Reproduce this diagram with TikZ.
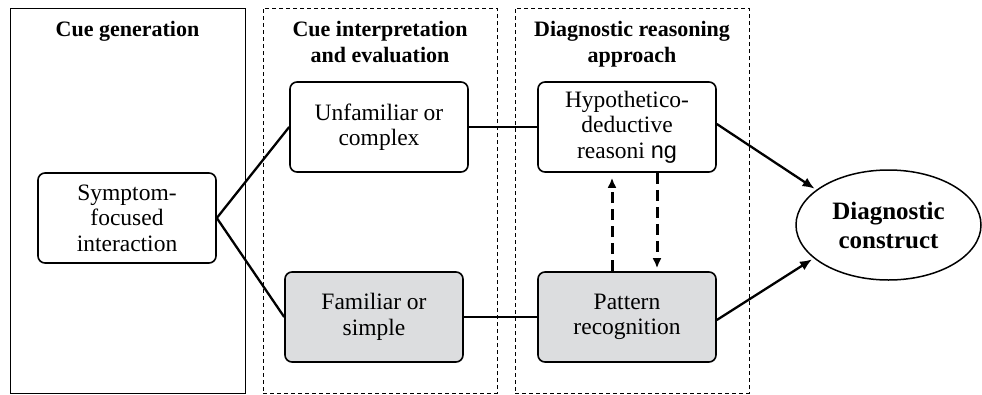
\documentclass[tikz,border=0pt]{standalone}
\usepackage{fontspec}
\setmainfont{Liberation Serif}
\setsansfont{Liberation Sans}
\usetikzlibrary{positioning, shapes.geometric, arrows.meta}
\definecolor{cuegray}{RGB}{220,221,223}
\tikzset{
	panel/.style={
		draw,
		line width=0.8pt,
		minimum width=234pt,
		minimum height=385pt,
		inner sep=0pt
	},
	dashedpanel/.style={
		panel,
		dash pattern=on 4pt off 3pt
	},
	paneltitle/.style={
		align=center,
		inner sep=0pt,
		font=\bfseries\fontsize{22}{26}\selectfont
	},
	cuebox/.style={
		draw,
		rounded corners=7pt,
		line width=1.6pt,
		minimum width=178pt,
		minimum height=90pt,
		align=center,
		inner sep=2pt,
		font=\fontsize{23.5}{25.5}\selectfont
	},
	shadedbox/.style={
		cuebox,
		fill=cuegray
	},
	outcome/.style={
		draw,
		ellipse,
		line width=1.5pt,
		minimum width=185pt,
		minimum height=110pt,
		inner sep=0pt,
		align=center,
		font=\bfseries\fontsize{25}{29}\selectfont
	}
}

\begin{document}
\begin{tikzpicture}[x=1pt, y=-1pt]
		\useasboundingbox (0,0) rectangle (982,394);
		
		% stage frames
		\node[panel, minimum width=235pt] (genpanel) at (127.5,200.5) {};
		\node[dashedpanel] (evalpanel) at (380,200.5) {};
		\node[dashedpanel] (reasonpanel) at (632,200.5) {};
		
		% stage titles
		\node[paneltitle, below=13pt of genpanel.north] (gentitle) {Cue generation};
		\node[paneltitle, below=13pt of evalpanel.north] (evaltitle) {Cue interpretation\\and evaluation};
		\node[paneltitle, below=13pt of reasonpanel.north] (reasontitle) {Diagnostic reasoning\\approach};
		
		% cue and reasoning boxes
		\node[cuebox] (symptom) at (127,218) {Symptom-\\focused\\interaction};
		\node[cuebox] (unfamiliar) at (379,127) {Unfamiliar or\\complex};
		\node[shadedbox] (familiar) at (374,317) {Familiar or\\simple};
		\node[cuebox] (hypo) at (627,127) {Hypothetico-\\deductive\\reasoni {\sffamily ng}};
		\node[shadedbox] (pattern) at (627,317) {Pattern\\recognition};
		\node[outcome] (construct) at (888.5,225) {Diagnostic\\construct};
		
		% plain links
		\begin{scope}[line width=2.3pt]
		\draw (symptom.east) -- (unfamiliar.west);
		\draw (symptom.east) -- (familiar.west);
		\draw (unfamiliar) -- (hypo);
		\draw (familiar) -- (pattern);
		\end{scope}
		
		% links to the construct
		\begin{scope}[line width=2.3pt, ->, >={Latex[length=12pt,width=10pt]}, shorten >=2pt]
		\draw ([yshift=3pt]hypo.east) -- (construct.154);
		\draw ([yshift=-3pt]pattern.east) -- (construct.204);
		\end{scope}
		
		% switching between approaches
		\begin{scope}[line width=3pt, dash pattern=on 11pt off 6pt, ->, >={Latex[length=10pt,width=9pt]}]
		\draw ([xshift=-15pt]pattern.north) -- ([xshift=-15pt, yshift=-5pt]hypo.south);
		\draw ([xshift=30pt]hypo.south) -- ([xshift=30pt, yshift=3pt]pattern.north);
		\end{scope}
		
\end{tikzpicture}
\end{document}
